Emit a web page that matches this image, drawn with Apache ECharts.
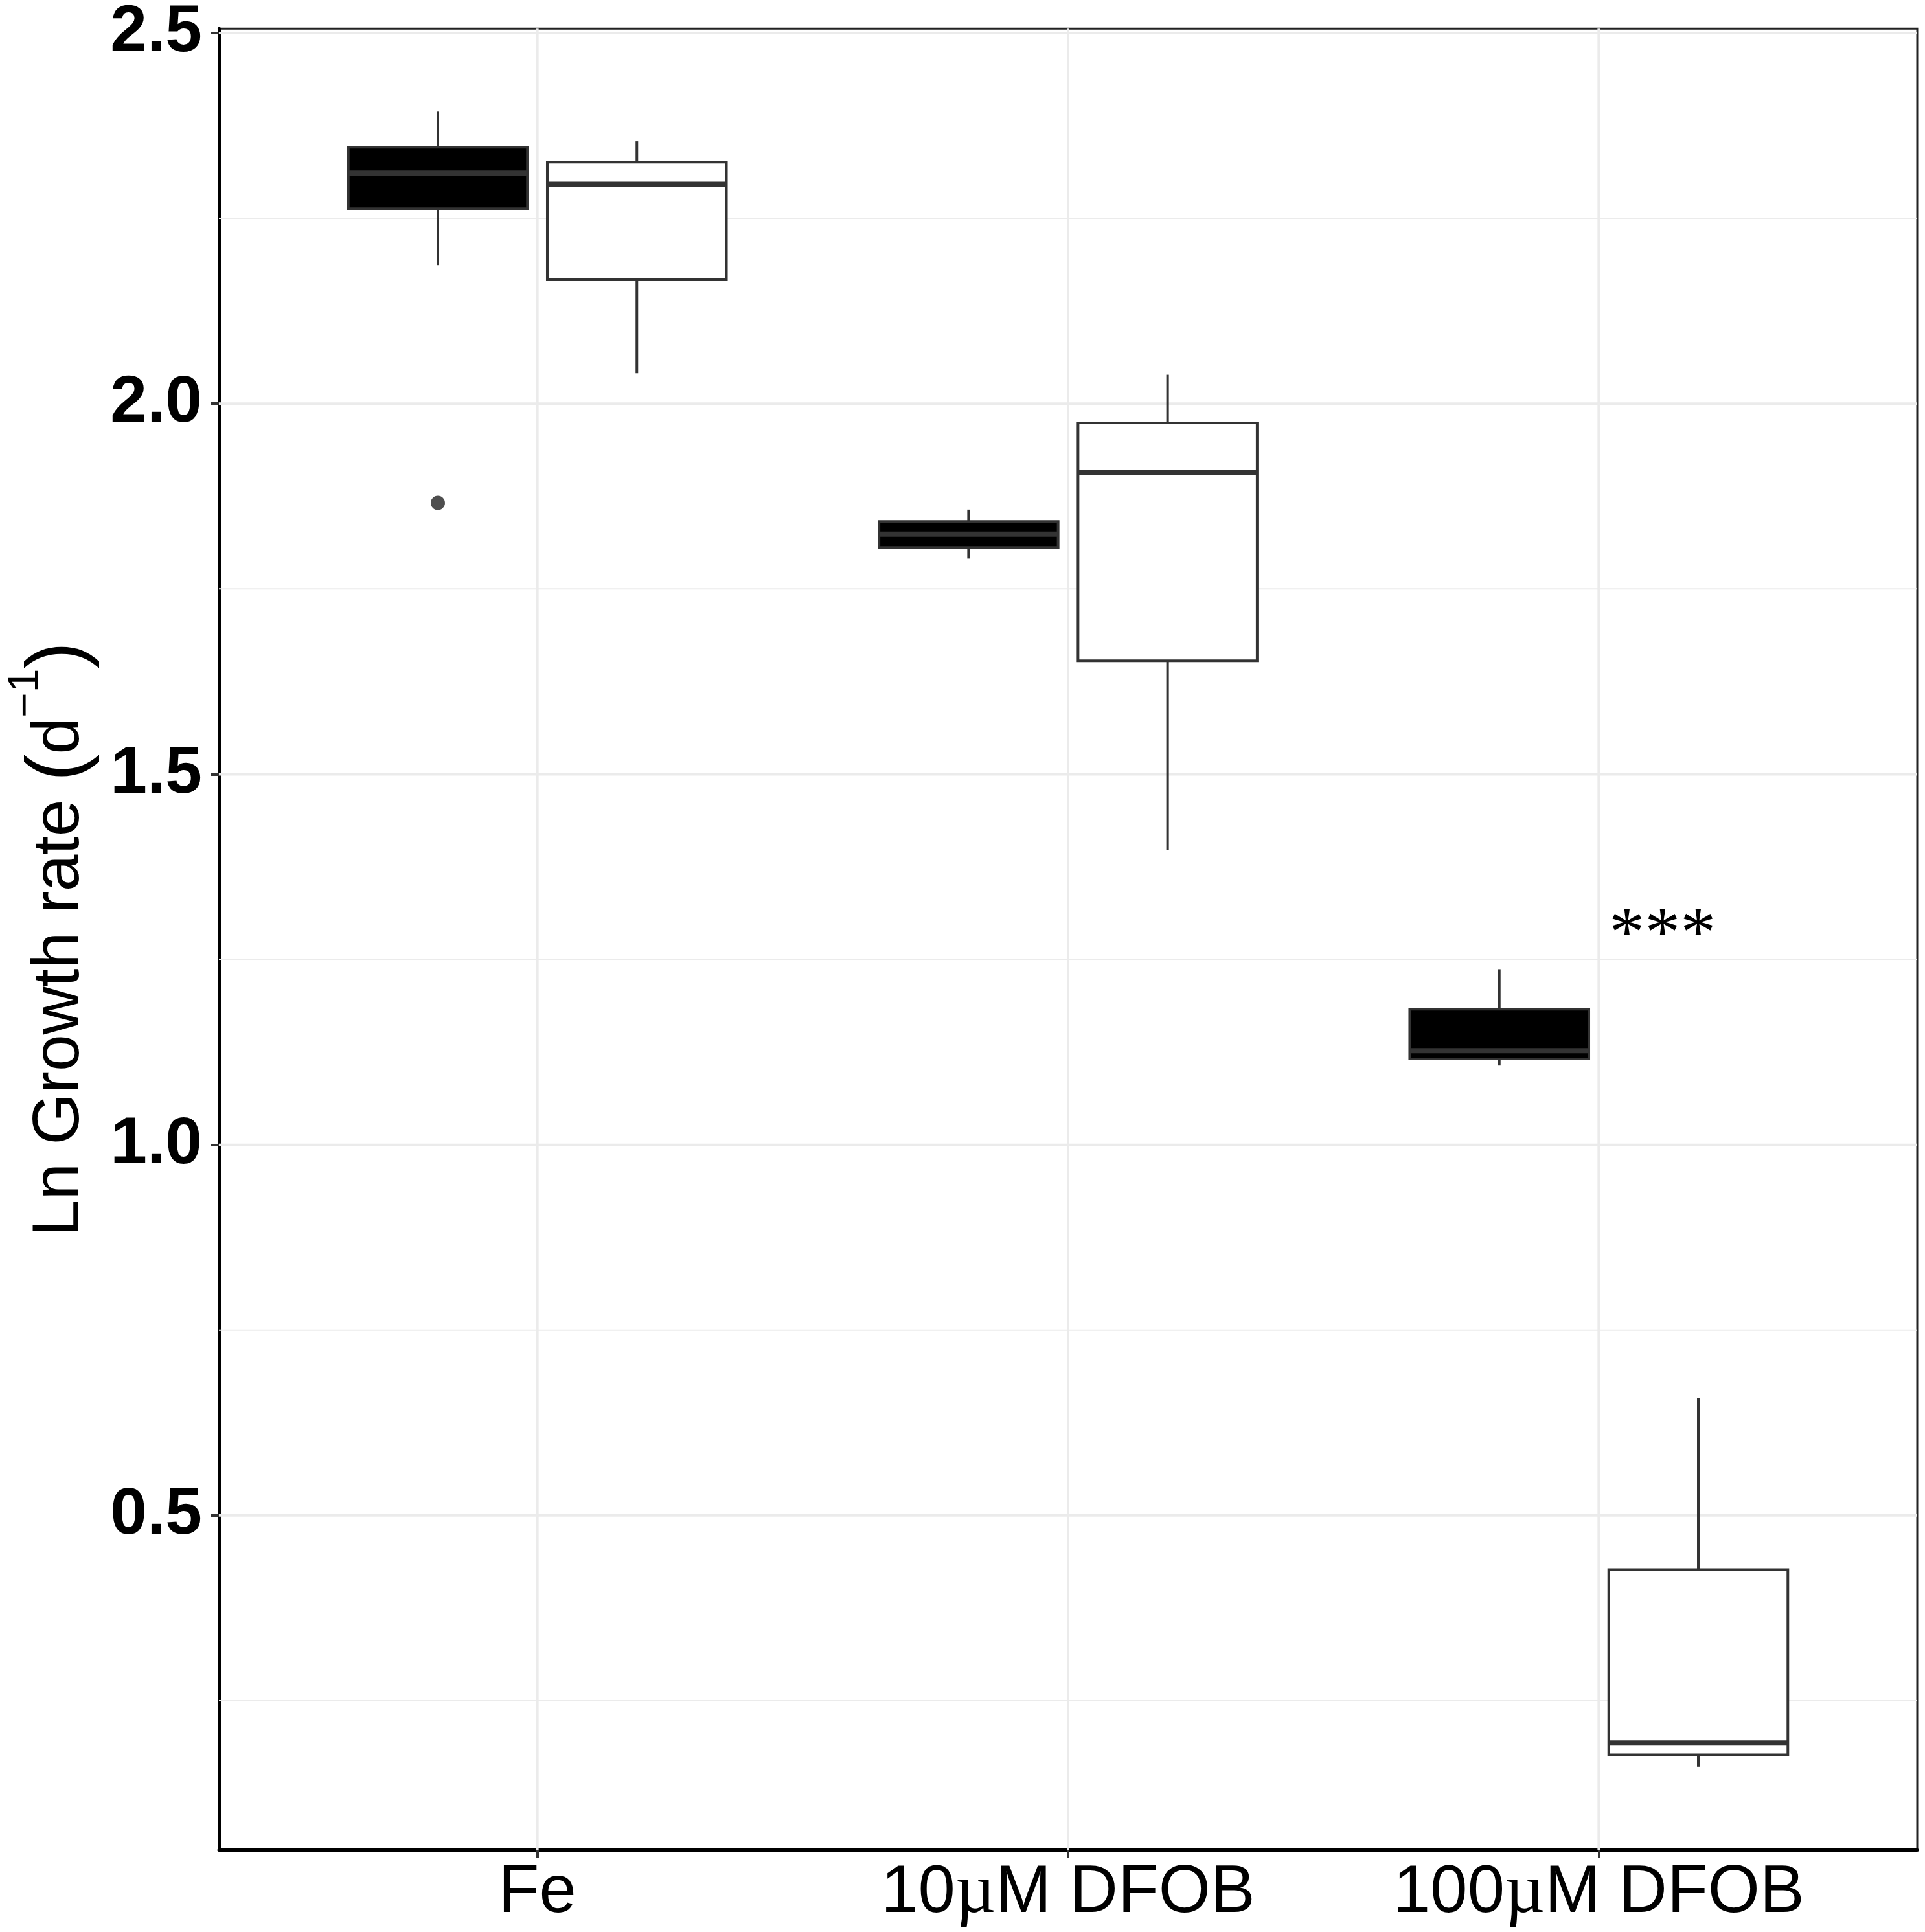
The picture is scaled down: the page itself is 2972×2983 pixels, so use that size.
<!DOCTYPE html>
<html>
<head>
<meta charset="utf-8">
<script src="https://cdn.jsdelivr.net/npm/echarts@6/dist/echarts.min.js"></script>
<style>
  html, body { margin: 0; padding: 0; background: #fff; }
  #chart { width: 2972px; height: 2983px; }
</style>
</head>
<body>
<div id="chart"></div>
<script>
const categories = ['Fe', '10\u00b5M DFOB', '100\u00b5M DFOB']
// each row: [lower whisker, Q1, median, Q3, upper whisker]
const blackStats = [
  [2.187, 2.263, 2.311, 2.346, 2.394],
  [1.791, 1.806, 1.824, 1.841, 1.857],
  [1.107, 1.116, 1.127, 1.183, 1.237]
]
const whiteStats = [
  [2.041, 2.167, 2.296, 2.326, 2.354],
  [1.398, 1.653, 1.907, 1.974, 2.039],
  [0.161, 0.177, 0.193, 0.427, 0.659]
]
// [category index, value]
const blackOutliers = [[0, 1.866]]
const whiteOutliers = []
const yTicks = [0.5, 1.0, 1.5, 2.0, 2.5]
const yMinor = [0.25, 0.75, 1.25, 1.75, 2.25]
const xTicks = [1, 2, 3]
const signif = [[3.12, 1.28, '***']]

const yMin = 0.049
const yMax = 2.506
const xMin = 0.4
const xMax = 3.6
const dodge = 0.1875
const boxWidth = 0.3375
const lineCol = '#333333'

const chart = echarts.init(document.getElementById('chart'))

function boxRender(fill) {
  return function (params, api) {
    const x = api.value(0)
    const lo = api.coord([x, api.value(1)])
    const q1 = api.coord([x, api.value(2)])
    const md = api.coord([x, api.value(3)])
    const q3 = api.coord([x, api.value(4)])
    const hi = api.coord([x, api.value(5)])
    const w = api.size([boxWidth, 0])[0]
    const cx = lo[0]
    const left = cx - w / 2
    return {
      type: 'group',
      children: [
        { type: 'line', shape: { x1: cx, y1: hi[1], x2: cx, y2: q3[1] }, style: { stroke: lineCol, lineWidth: 4 } },
        { type: 'line', shape: { x1: cx, y1: q1[1], x2: cx, y2: lo[1] }, style: { stroke: lineCol, lineWidth: 4 } },
        { type: 'rect', shape: { x: left, y: q3[1], width: w, height: q1[1] - q3[1] }, style: { fill: fill, stroke: lineCol, lineWidth: 4 } },
        { type: 'line', shape: { x1: left, y1: md[1], x2: left + w, y2: md[1] }, style: { stroke: lineCol, lineWidth: 8 } }
      ]
    }
  }
}

function hGrid(width) {
  return function (params, api) {
    const cs = params.coordSys
    const y = api.coord([xMin, api.value(0)])[1]
    return { type: 'line', shape: { x1: cs.x, y1: y, x2: cs.x + cs.width, y2: y }, style: { stroke: '#ebebeb', lineWidth: width } }
  }
}

function vGrid(params, api) {
  const cs = params.coordSys
  const x = api.coord([api.value(0), yMin])[0]
  return { type: 'line', shape: { x1: x, y1: cs.y, x2: x, y2: cs.y + cs.height }, style: { stroke: '#ebebeb', lineWidth: 4 } }
}

// µ is drawn in a serif face, like the symbol font in the original
function catLabel(v) {
  const name = categories[Math.round(v) - 1]
  return name.split('\u00b5').map(s => '{t|' + s + '}').join('{m|\u00b5}')
}

chart.setOption({
  backgroundColor: '#fff',
  animation: false,
  grid: {
    left: 326,
    right: 12,
    top: 32,
    bottom: 127,
    show: true,
    borderColor: '#222',
    borderWidth: 3,
    backgroundColor: '#fff'
  },
  xAxis: {
    type: 'value',
    min: xMin,
    max: xMax,
    axisLine: { onZero: false, lineStyle: { color: '#000', width: 5 } },
    axisTick: { customValues: xTicks, length: 13, lineStyle: { color: lineCol, width: 4 } },
    axisLabel: {
      customValues: xTicks,
      formatter: catLabel,
      color: '#000',
      margin: 8,
      rich: {
        t: { fontSize: 103, fontFamily: 'Liberation Sans', color: '#000', lineHeight: 120 },
        m: { fontSize: 108, fontFamily: 'Liberation Serif', color: '#000', lineHeight: 120 }
      }
    },
    splitLine: { show: false }
  },
  yAxis: {
    type: 'value',
    min: yMin,
    max: yMax,
    name: '{a|Ln Growth rate }{p|(}{a|d}{s|\u22121}{p|)}',
    nameLocation: 'middle',
    nameRotate: 90,
    nameGap: 160,
    nameTextStyle: {
      color: '#000',
      fontFamily: 'Liberation Sans',
      rich: {
        a: { fontSize: 102, lineHeight: 170, fontFamily: 'Liberation Sans', color: '#000' },
        p: { fontSize: 125, lineHeight: 170, fontFamily: 'Liberation Sans', color: '#000' },
        s: { fontSize: 66, lineHeight: 70, verticalAlign: 'top', fontFamily: 'Liberation Sans', color: '#000' }
      }
    },
    axisLine: { onZero: false, lineStyle: { color: '#000', width: 5 } },
    axisTick: { customValues: yTicks, length: 13, lineStyle: { color: lineCol, width: 4 } },
    axisLabel: {
      customValues: yTicks,
      formatter: v => v.toFixed(1),
      fontSize: 102,
      fontWeight: 'bold',
      fontFamily: 'Liberation Sans',
      color: '#000',
      margin: 26
    },
    splitLine: { show: false }
  },
  series: [
    { type: 'custom', z: 1, silent: true, data: yMinor, renderItem: hGrid(2) },
    { type: 'custom', z: 1, silent: true, data: yTicks, renderItem: hGrid(4) },
    { type: 'custom', z: 1, silent: true, data: xTicks, renderItem: vGrid },
    {
      name: 'black',
      type: 'custom',
      z: 10,
      data: blackStats.map((s, i) => [i + 1 - dodge].concat(s)),
      encode: { x: 0, y: [1, 2, 3, 4, 5] },
      renderItem: boxRender('#000')
    },
    {
      name: 'white',
      type: 'custom',
      z: 10,
      data: whiteStats.map((s, i) => [i + 1 + dodge].concat(s)),
      encode: { x: 0, y: [1, 2, 3, 4, 5] },
      renderItem: boxRender('#fff')
    },
    {
      type: 'scatter',
      z: 11,
      symbolSize: 22,
      itemStyle: { color: '#222' },
      data: blackOutliers.map(o => [o[0] + 1 - dodge, o[1]])
        .concat(whiteOutliers.map(o => [o[0] + 1 + dodge, o[1]]))
    },
    {
      type: 'custom',
      z: 12,
      data: signif,
      renderItem: function (params, api) {
        const p = api.coord([api.value(0), api.value(1)])
        return {
          type: 'text',
          x: p[0],
          y: p[1],
          style: {
            text: signif[params.dataIndex][2],
            fontSize: 110,
            fontFamily: 'Liberation Serif',
            fill: '#000',
            align: 'center',
            verticalAlign: 'middle'
          }
        }
      }
    }
  ]
})
</script>
</body>
</html>
